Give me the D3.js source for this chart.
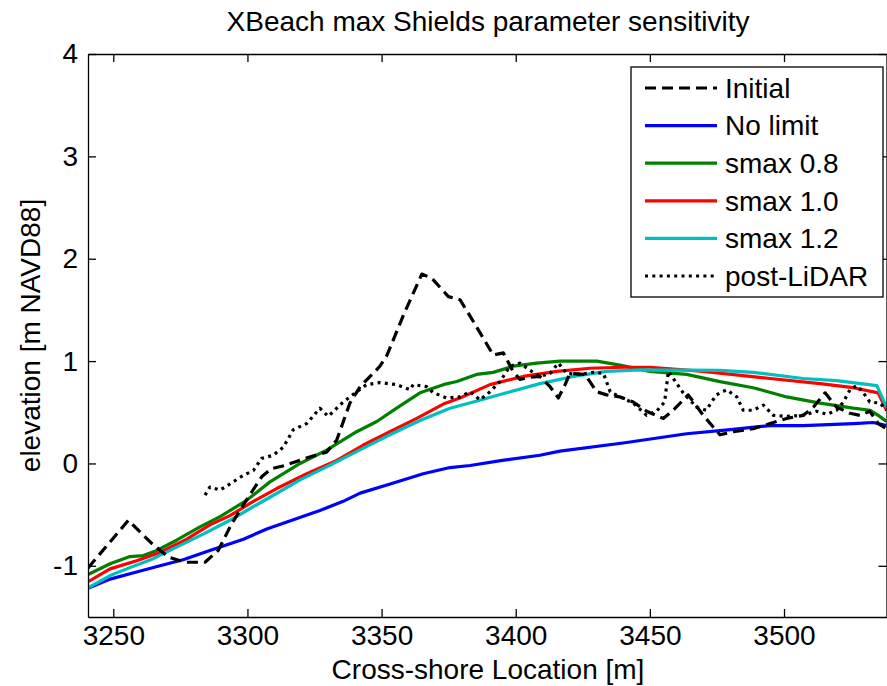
<!DOCTYPE html>
<html>
<head>
<meta charset="utf-8">
<script src="https://cdn.jsdelivr.net/npm/d3@7"></script>
<style>
  body { margin: 0; background: #fff; }
  svg text { font-family: "Liberation Sans", Arial, Helvetica, sans-serif; fill: #000; }
</style>
</head>
<body>
<svg id="chart" width="887" height="686"></svg>
<script>
// profile values (x in m, elevation in m NAVD88)
var initialX = [3240.6, 3255.6, 3264.3, 3270.5, 3276.7, 3284.2, 3289.1, 3294.1, 3300.3, 3305.3, 3309, 3314, 3321.5, 3329.5, 3333.3, 3338.2, 3342, 3349.4, 3351.9, 3358, 3365, 3368.7, 3374.9, 3379.2, 3383, 3391.6, 3395.4, 3399, 3401.6, 3404.6, 3409, 3412.8, 3415.9, 3418.4, 3420.2, 3425.8, 3430.2, 3433.9, 3438.9, 3443.8, 3448.8, 3455, 3458.7, 3464.3, 3469.9, 3476.1, 3481.1, 3488.5, 3494.8, 3501, 3507.2, 3510.9, 3515.3, 3519.6, 3524.6, 3528.3, 3532, 3535.1, 3538.2];
var initialY = [-1.02, -0.556, -0.78, -0.915, -0.965, -0.965, -0.85, -0.59, -0.33, -0.13, -0.05, -0.02, 0.05, 0.11, 0.23, 0.59, 0.75, 0.95, 1.05, 1.44, 1.85, 1.81, 1.63, 1.60, 1.44, 1.06, 1.08, 0.90, 0.82, 0.84, 0.85, 0.75, 0.64, 0.77, 0.88, 0.87, 0.70, 0.67, 0.65, 0.60, 0.51, 0.44, 0.52, 0.67, 0.47, 0.28, 0.31, 0.34, 0.39, 0.44, 0.47, 0.55, 0.69, 0.55, 0.49, 0.47, 0.51, 0.39, 0.34];

var noLimitX = [3240.6, 3248.8, 3258.7, 3267.4, 3276, 3286, 3298.5, 3307.2, 3317.1, 3327, 3335.7, 3342, 3353.2, 3365.5, 3375.5, 3383, 3395, 3409, 3416.5, 3440, 3463.7, 3480, 3494.8, 3507.2, 3525.8, 3533.3, 3538.2];
var noLimitY = [-1.22, -1.13, -1.06, -1.0, -0.94, -0.85, -0.74, -0.64, -0.55, -0.46, -0.37, -0.29, -0.20, -0.10, -0.04, -0.02, 0.03, 0.08, 0.12, 0.20, 0.29, 0.33, 0.37, 0.37, 0.39, 0.40, 0.37];

var smax08X = [3240.6, 3248.8, 3256.2, 3261.2, 3266.2, 3273.6, 3282.3, 3289.8, 3299.7, 3308.4, 3319.6, 3329.5, 3340.7, 3348.2, 3355.6, 3364.3, 3373, 3378, 3385.4, 3391.6, 3399.1, 3407.8, 3416.5, 3430.2, 3438.8, 3450, 3463.7, 3476.1, 3488.5, 3501, 3513.4, 3525.8, 3532, 3535.1, 3538.2];
var smax08Y = [-1.085, -0.98, -0.91, -0.90, -0.85, -0.75, -0.62, -0.52, -0.36, -0.18, 0.0, 0.13, 0.31, 0.41, 0.54, 0.69, 0.77, 0.80, 0.87, 0.89, 0.95, 0.98, 1.0, 1.0, 0.96, 0.90, 0.87, 0.80, 0.74, 0.65, 0.59, 0.54, 0.52, 0.47, 0.41];

var smax10X = [3240.6, 3248.8, 3258.7, 3267.4, 3277.4, 3286, 3293.5, 3302.2, 3310.9, 3322.1, 3333.3, 3343.2, 3353.1, 3363.1, 3373, 3379.2, 3390.4, 3402.8, 3415.3, 3427.7, 3440.1, 3450, 3469.9, 3494.8, 3513.4, 3525.8, 3535.1, 3538.2];
var smax10Y = [-1.155, -1.03, -0.95, -0.87, -0.74, -0.60, -0.51, -0.37, -0.245, -0.10, 0.03, 0.18, 0.31, 0.44, 0.58, 0.64, 0.77, 0.85, 0.90, 0.93, 0.94, 0.94, 0.90, 0.83, 0.78, 0.74, 0.69, 0.52];

var smax12X = [3240.6, 3248.8, 3255, 3264.9, 3274.9, 3283.5, 3293.5, 3301, 3308.4, 3319.6, 3332, 3343.2, 3353.1, 3364.3, 3375.5, 3384.2, 3396.6, 3409, 3421.5, 3433.9, 3446.3, 3476.1, 3488.5, 3507.2, 3519.6, 3534.6, 3538.2];
var smax12Y = [-1.215, -1.095, -1.03, -0.93, -0.80, -0.69, -0.555, -0.44, -0.33, -0.16, 0.0, 0.15, 0.28, 0.42, 0.54, 0.60, 0.69, 0.78, 0.85, 0.90, 0.915, 0.91, 0.89, 0.83, 0.81, 0.76, 0.55];

var lidarX = [3284.2, 3286, 3289.8, 3293.5, 3298.5, 3302.2, 3305.3, 3309.6, 3313.4, 3317.1, 3322.1, 3327, 3330.1, 3335.7, 3340.7, 3344.4, 3349.4, 3355.6, 3360.6, 3361.8, 3366.8, 3369.3, 3374.3, 3379.2, 3383, 3386.7, 3390.4, 3394.1, 3397.9, 3401.6, 3405.3, 3409, 3412.8, 3415.9, 3419, 3424, 3429, 3432.7, 3435.2, 3438.9, 3443.8, 3448.8, 3452.5, 3455.5, 3456.9, 3462.4, 3467.4, 3471, 3474.8, 3478.6, 3482.4, 3484.8, 3488.5, 3492.3, 3496, 3501, 3507.2, 3512.2, 3516, 3519.6, 3522.1, 3524.6, 3527.1, 3529.6, 3532, 3535.8, 3538.2];
var lidarY = [-0.31, -0.23, -0.26, -0.20, -0.115, -0.07, 0.05, 0.08, 0.16, 0.33, 0.39, 0.54, 0.46, 0.60, 0.70, 0.77, 0.79, 0.77, 0.72, 0.77, 0.75, 0.69, 0.64, 0.65, 0.70, 0.62, 0.70, 0.80, 0.95, 0.98, 0.91, 0.85, 0.88, 0.98, 0.88, 0.87, 0.89, 0.88, 0.70, 0.65, 0.59, 0.47, 0.51, 0.60, 0.90, 0.69, 0.55, 0.52, 0.67, 0.72, 0.65, 0.52, 0.52, 0.57, 0.47, 0.46, 0.47, 0.51, 0.48, 0.52, 0.60, 0.72, 0.76, 0.69, 0.60, 0.59, 0.52];

var seriesNames = ["Initial", "No limit", "smax 0.8", "smax 1.0", "smax 1.2", "post-LiDAR"];
var xTicks = [3250, 3300, 3350, 3400, 3450, 3500];
var yTicks = [-1, 0, 1, 2, 3, 4];
var xLimits = [3240.57, 3538.2];
var yLimits = [-1.5, 4];

var LEFT = 88, RIGHT = 886.5, TOP = 54, BOTTOM = 617;
var TICK_LEN = 8;
var FONT = 28;

var svg = d3.select("#chart");

var x = d3.scaleLinear().domain(xLimits).range([LEFT, RIGHT]);
var y = d3.scaleLinear().domain(yLimits).range([BOTTOM, TOP]);

var series = [
    { name: seriesNames[0], xs: initialX, ys: initialY, color: "#000", dash: "11,6" },
    { name: seriesNames[1], xs: noLimitX, ys: noLimitY, color: "#0000ff", dash: null },
    { name: seriesNames[2], xs: smax08X, ys: smax08Y, color: "#008000", dash: null },
    { name: seriesNames[3], xs: smax10X, ys: smax10Y, color: "#ff0000", dash: null },
    { name: seriesNames[4], xs: smax12X, ys: smax12Y, color: "#00bfbf", dash: null },
    { name: seriesNames[5], xs: lidarX, ys: lidarY, color: "#000", dash: "3,4.3" }
];

svg.append("defs").append("clipPath")
    .attr("id", "plotClip")
    .append("rect")
    .attr("x", LEFT).attr("y", TOP)
    .attr("width", RIGHT - LEFT).attr("height", BOTTOM - TOP);

var line = d3.line()
    .x(function (d) { return x(d[0]); })
    .y(function (d) { return y(d[1]); });

var plot = svg.append("g").attr("clip-path", "url(#plotClip)");

// draw the model runs first, the measured profiles on top
var drawOrder = [1, 2, 3, 4, 0, 5];
drawOrder.forEach(function (k) {
    var s = series[k];
    plot.append("path")
        .datum(d3.zip(s.xs, s.ys))
        .attr("d", line)
        .attr("fill", "none")
        .attr("stroke", s.color)
        .attr("stroke-width", 3.2)
        .attr("stroke-linejoin", "round")
        .attr("stroke-dasharray", s.dash);
});

// axes, matlab style: ticks inward on all four sides
var xAxisB = d3.axisBottom(x).tickValues(xTicks).tickSizeInner(-TICK_LEN).tickSizeOuter(0).tickPadding(8)
    .tickFormat(d3.format("d"));
var xAxisT = d3.axisTop(x).tickValues(xTicks).tickSizeInner(-TICK_LEN).tickSizeOuter(0).tickFormat("");
var yAxisL = d3.axisLeft(y).tickValues(yTicks).tickSizeInner(-TICK_LEN).tickSizeOuter(0).tickPadding(10)
    .tickFormat(function (d) { return d < 0 ? "-" + Math.abs(d) : d; });
var yAxisR = d3.axisRight(y).tickValues(yTicks).tickSizeInner(-TICK_LEN).tickSizeOuter(0).tickFormat("");

function styleAxis(g) {
    g.select(".domain").attr("stroke", "#000").attr("stroke-width", 1.3);
    g.selectAll(".tick line").attr("stroke", "#000").attr("stroke-width", 1.3);
    g.selectAll(".tick text").attr("font-size", FONT).attr("fill", "#000")
        .style("font-family", '"Liberation Sans", Arial, sans-serif');
}

svg.append("g").attr("transform", "translate(0," + BOTTOM + ")").call(xAxisB).call(styleAxis);
svg.append("g").attr("transform", "translate(0," + TOP + ")").call(xAxisT).call(styleAxis);
svg.append("g").attr("transform", "translate(" + LEFT + ",0)").call(yAxisL).call(styleAxis);
svg.append("g").attr("transform", "translate(" + RIGHT + ",0)").call(yAxisR).call(styleAxis);

// titles
svg.append("text")
    .attr("x", 488).attr("y", 31)
    .attr("text-anchor", "middle")
    .attr("font-size", FONT)
    .text("XBeach max Shields parameter sensitivity");

svg.append("text")
    .attr("x", 488).attr("y", 679)
    .attr("text-anchor", "middle")
    .attr("font-size", FONT)
    .text("Cross-shore Location [m]");

svg.append("text")
    .attr("transform", "translate(40," + ((TOP + BOTTOM) / 2) + ") rotate(-90)")
    .attr("text-anchor", "middle")
    .attr("font-size", FONT)
    .text("elevation [m NAVD88]");

// legend
var legend = svg.append("g").attr("transform", "translate(631,67)");
legend.append("rect")
    .attr("width", 252).attr("height", 230)
    .attr("fill", "#fff").attr("stroke", "#000").attr("stroke-width", 1.3);

var items = legend.selectAll(".legendItem")
    .data(series)
    .enter()
    .append("g")
    .attr("class", "legendItem")
    .attr("transform", function (d, i) { return "translate(0," + (21 + i * 37.6) + ")"; });

items.append("line")
    .attr("x1", 14).attr("x2", 86)
    .attr("stroke", function (d) { return d.color; })
    .attr("stroke-width", 3.2)
    .attr("stroke-dasharray", function (d) { return d.dash; });

items.append("text")
    .attr("x", 94).attr("y", 0)
    .attr("dy", "0.35em")
    .attr("font-size", FONT)
    .text(function (d) { return d.name; });
</script>
</body>
</html>
